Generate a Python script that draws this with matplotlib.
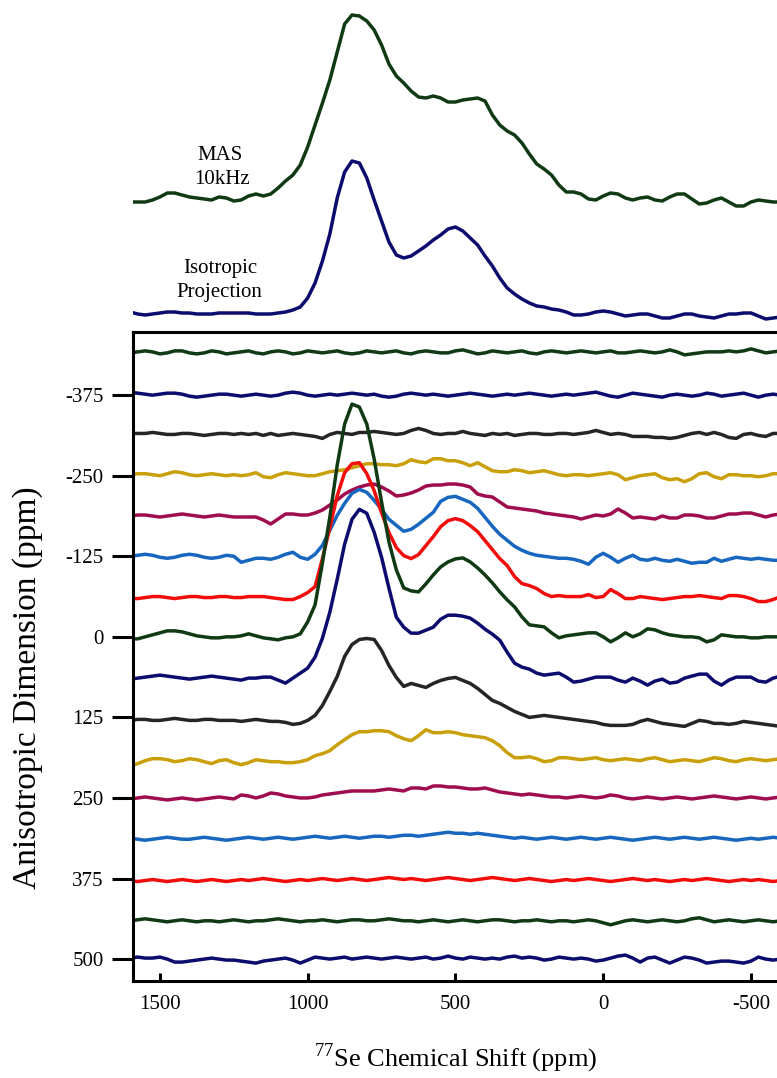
import matplotlib.pyplot as plt
import numpy as np

plt.rcParams['font.family'] = 'Liberation Serif'
plt.rcParams['mathtext.fontset'] = 'custom'
plt.rcParams['mathtext.rm'] = 'Liberation Serif'
plt.rcParams['lines.solid_joinstyle'] = 'round'
plt.rcParams['lines.solid_capstyle'] = 'round'

# direct dimension, one point every 25 ppm (1600 -> -600)
shift_ppm = np.arange(1600, -601, -25)

# top spectra (intensity above their own baseline)
mas_10khz = [0, 0, 0, 2, 5, 9, 9, 7, 5, 4,
             3, 2, 5, 4, 1, 2, 6, 8, 6, 8,
             14, 21, 27, 37, 55, 77, 99, 122, 150, 178,
             187, 186, 181, 172, 157, 138, 126, 119, 111, 105,
             104, 106, 104, 100, 100, 102, 103, 104, 101, 87,
             77, 71, 67, 59, 48, 38, 33, 27, 17, 10,
             10, 8, 3, 2, 6, 9, 8, 4, 2, 4,
             5, 2, 1, 5, 8, 8, 3, -2, -1, 2,
             4, 0, -4, -4, 0, 2, 1, 0, 0]

iso_projection = [6, 4, 3, 4, 5, 6, 6, 5, 5, 4,
                  4, 4, 5, 5, 5, 5, 5, 4, 4, 4,
                  5, 6, 8, 11, 20, 35, 57, 84, 120, 146,
                  157, 155, 140, 118, 97, 76, 63, 60, 62, 67,
                  72, 78, 83, 89, 91, 87, 80, 73, 62, 52,
                  40, 30, 24, 19, 15, 12, 11, 9, 8, 6,
                  3, 3, 4, 6, 7, 6, 4, 2, 3, 4,
                  4, 2, 0, 0, 2, 4, 4, 2, 1, 0,
                  2, 4, 4, 5, 5, 2, -1, 0, 1]

# anisotropic slices, position on the indirect axis (ppm)
aniso_ppm = [-437.5, -375, -312.5, -250, -187.5, -125, -62.5, 0,
             62.5, 125, 187.5, 250, 312.5, 375, 437.5, 500]

slices = [
    [2, 3, 4, 3, 1, 2, 4, 4, 2, 1,
     2, 4, 3, 1, 2, 3, 4, 2, 1, 3,
     4, 3, 1, 2, 4, 3, 2, 3, 4, 2,
     1, 2, 4, 3, 2, 3, 4, 2, 1, 3,
     4, 3, 2, 2, 4, 5, 3, 1, 2, 4,
     3, 2, 3, 4, 2, 1, 3, 4, 3, 2,
     3, 4, 3, 2, 3, 4, 2, 2, 3, 4,
     3, 2, 3, 5, 3, 0, 1, 2, 3, 3,
     3, 4, 3, 4, 6, 4, 2, 3, 4],
    [3, 2, 1, 0, 1, 2, 2, 1, -1, -2,
     -1, 0, 1, 1, 0, -1, 0, 1, 0, -1,
     0, 2, 3, 2, 0, -1, 0, 1, 0, 1,
     2, 1, 0, 1, -1, -2, -1, 1, 2, 1,
     0, 1, 0, -1, 0, 1, 2, 1, 0, -1,
     0, 1, 0, 1, 2, 1, 0, -1, 0, 1,
     0, 1, 2, 3, 1, -1, -2, 0, 2, 1,
     0, -1, -2, 0, 1, 0, -1, 0, 2, 1,
     -1, 0, 1, 2, 0, -2, 0, 1, 0],
    [2, 2, 2, 3, 2, 1, 1, 2, 2, 1,
     0, 1, 2, 2, 1, 2, 1, 2, 0, 2,
     0, 1, 2, 1, 0, -1, -3, 1, 3, 2,
     1, 3, 3, 4, 3, 2, 1, 2, 5, 7,
     5, 2, 1, 2, 2, 4, 2, 1, 0, 2,
     1, 2, 0, 1, 2, 2, 1, 1, 2, 2,
     1, 2, 3, 5, 3, 1, 2, 1, -1, -1,
     -1, -2, -2, -3, -2, 0, 2, 3, 1, 3,
     1, -2, -3, 1, 2, 0, -1, 2, 2],
    [1, 2, 2, 1, 0, 2, 4, 3, 1, 0,
     1, 2, 1, 0, 1, 0, 1, 3, -1, -2,
     1, 3, 2, 1, 0, 0, 2, 4, 5, 6,
     8, 10, 12, 12, 11, 11, 10, 12, 16, 14,
     13, 17, 17, 15, 15, 13, 10, 13, 9, 5,
     4, 4, 6, 5, 3, 4, 5, 3, 1, 0,
     1, 1, 0, 1, 2, 3, 1, -4, -2, 0,
     1, 2, -2, -4, -3, -6, -3, 2, 3, -1,
     -3, 1, 1, 0, 0, -1, 0, 2, 2],
    [0, 1, 1, 0, -1, 0, 1, 2, 1, 0,
     -1, 0, 1, 0, -1, -1, -1, -1, -4, -8,
     -3, 2, 2, 1, 1, 3, 6, 11, 16, 22,
     26, 29, 31, 32, 29, 25, 20, 21, 23, 26,
     30, 31, 31, 32, 32, 31, 29, 22, 20, 19,
     14, 9, 8, 7, 6, 5, 3, 2, 1, 0,
     -1, -3, -1, 1, 0, 2, 7, 3, -2, -1,
     -2, -3, 0, -2, -2, 1, 1, 0, -2, -2,
     0, 2, 2, 3, 3, 1, -1, 1, 2],
    [0, 1, 2, 1, -1, -2, -1, 1, 2, 1,
     -1, -2, -1, 1, 0, -6, -4, -2, -2, -3,
     -1, 2, 4, -1, -3, 2, 11, 26, 41, 53,
     63, 67, 64, 56, 47, 37, 31, 25, 27, 32,
     38, 44, 55, 59, 60, 57, 54, 48, 39, 30,
     22, 16, 10, 6, 3, 1, 0, -1, -2, -2,
     -3, -5, -8, -1, 3, -1, -6, -2, 1, -3,
     -4, -2, -4, -5, -3, -5, -7, -6, -6, -2,
     -5, -3, -1, -2, -3, -2, -3, -4, -4],
    [-2, -2, -1, 0, 0, -1, -2, -1, 0, 0,
     -1, -1, 0, 0, -1, -1, 0, 0, 0, -1,
     -2, -3, -3, 0, 4, 10, 38, 69, 101, 124,
     133, 134, 123, 106, 84, 64, 49, 41, 38, 42,
     51, 60, 70, 76, 78, 76, 71, 65, 56, 47,
     38, 31, 20, 13, 11, 8, 3, 0, 1, 0,
     0, 0, 2, -1, 0, 7, 3, -2, -2, 0,
     -1, -2, -3, -2, -1, 0, 0, 1, 0, -1,
     -2, 1, 1, 0, -2, -5, -5, -3, 0],
    [-2, -2, 0, 2, 4, 6, 6, 5, 3, 1,
     0, -1, -1, 0, 0, 1, 3, 1, -1, -2,
     -3, -1, 0, 3, 15, 32, 74, 120, 172, 213,
     233, 230, 213, 178, 135, 95, 67, 49, 46, 45,
     53, 62, 70, 75, 78, 79, 75, 69, 62, 54,
     45, 37, 30, 20, 12, 11, 10, 4, -1, 1,
     2, 3, 4, 4, 0, -5, -1, 4, 0, 3,
     8, 7, 4, 2, 1, 0, 0, -1, -5, -3,
     2, 1, 0, 0, -1, -1, 0, 0, 0],
    [-2, -1, 0, 1, 2, 1, 0, -1, -2, -1,
     0, 1, 0, -1, -2, -3, -1, -1, 0, 0,
     -3, -6, -1, 4, 9, 20, 39, 65, 98, 133,
     158, 168, 164, 145, 120, 89, 60, 50, 44, 44,
     47, 50, 58, 62, 62, 61, 59, 54, 48, 43,
     37, 25, 14, 10, 8, 4, 2, 3, 4, 0,
     -5, -4, -2, 0, 0, 0, -3, -5, -1, -4,
     -8, -4, -2, -6, -5, -1, 1, 3, 3, -4,
     -8, -3, 0, 0, 0, -4, -5, -1, 1],
    [-3, -2, -2, -3, -3, -2, -1, -2, -3, -3,
     -2, -2, -3, -3, -3, -4, -3, -2, -3, -4,
     -4, -5, -7, -6, -3, 2, 12, 26, 41, 61,
     73, 78, 79, 78, 67, 52, 40, 31, 34, 32,
     30, 34, 37, 39, 40, 37, 34, 29, 23, 17,
     14, 10, 6, 3, 0, 1, 2, 1, 0, -1,
     -2, -3, -4, -5, -7, -8, -8, -8, -7, -4,
     -2, -4, -6, -7, -8, -9, -6, -3, -4, -6,
     -6, -7, -6, -4, -5, -6, -7, -8, -9],
    [-8, -6, -3, -1, -1, -2, -4, -3, -1, -2,
     -4, -6, -3, -2, -5, -7, -5, -2, -3, -4,
     -4, -5, -5, -4, -2, 2, 4, 7, 13, 18,
     23, 26, 26, 27, 27, 26, 22, 19, 17, 22,
     28, 25, 25, 26, 25, 23, 22, 21, 20, 17,
     12, 5, 0, 0, 1, -1, -4, -3, 0, 0,
     -1, -2, -1, 0, -2, -3, -2, -1, -2, -3,
     -1, 0, -2, -4, -3, -2, -3, -4, -2, 0,
     -1, -3, -4, -2, -1, -2, -3, -2, -1],
    [-1, 0, 1, 0, -1, -2, -1, 0, -1, -2,
     -1, 0, 1, 0, -1, 3, 2, 0, 2, 5,
     4, 2, 1, 0, 0, 1, 3, 4, 5, 6,
     7, 7, 7, 7, 8, 9, 8, 7, 10, 10,
     9, 12, 12, 11, 11, 10, 9, 9, 10, 8,
     6, 5, 4, 3, 4, 3, 2, 1, 1, 0,
     1, 2, 1, 0, 1, 3, 2, 0, -1, 0,
     1, 0, -1, 0, 1, 0, -1, 0, 1, 2,
     1, 0, -1, 0, 1, 0, -1, 0, 1],
    [0, -1, -2, -1, 0, 1, 0, -1, -1, 0,
     1, 0, -1, -2, -1, 0, 1, 0, -1, 0,
     1, 0, -1, 0, 1, 2, 1, 0, 1, 2,
     1, 0, 1, 2, 2, 1, 2, 3, 3, 2,
     3, 4, 5, 6, 5, 5, 4, 5, 4, 3,
     2, 1, 0, 1, 0, -1, 0, 1, 0, -1,
     0, 1, 0, -1, 0, 1, 0, -1, -2, -1,
     0, 1, 0, -1, 0, 1, 0, -1, 0, 1,
     0, -1, -2, -1, 0, -1, 0, 1, 0],
    [-2, -3, -2, -1, -2, -3, -2, -1, -2, -3,
     -2, -1, -2, -3, -2, -1, -2, -1, 0, -1,
     -2, -3, -2, -1, -2, -1, 0, -1, -2, -1,
     0, -1, -2, -1, 0, 1, 0, -1, 0, -1,
     -2, -1, 0, 1, 0, -1, -2, -1, 0, 1,
     0, -1, -2, -1, 0, -1, -2, -3, -2, -1,
     -2, -1, 0, -1, -2, -3, -2, -1, 0, -1,
     -2, -1, -2, -3, -2, -1, -2, -1, 0, -1,
     -2, -3, -2, -1, -2, -1, -2, -3, -2],
    [-2, -1, 0, -1, -2, -3, -2, -1, -2, -3,
     -2, -2, -3, -2, -1, -2, -3, -2, -2, -1,
     0, -1, -2, -3, -2, -2, -1, -2, -3, -2,
     -1, -1, -2, -2, -1, 0, -1, -2, -2, -3,
     -2, -1, -2, -3, -2, -1, -2, -3, -2, -1,
     -1, -2, -3, -2, -2, -1, -2, -3, -2, -2,
     -3, -2, -1, -2, -4, -6, -4, -2, -1, -2,
     -3, -2, -1, -2, -3, -2, 0, 1, -1, -3,
     -2, -1, -2, -3, -2, -1, -2, -3, -2],
    [1, 2, 1, 1, 2, 0, -3, -3, -2, -1,
     0, 1, 0, -1, -1, -2, -3, -4, -2, -1,
     0, 1, -1, -4, -1, 2, 1, 0, 1, 2,
     0, 1, 2, 1, 0, 1, 2, 1, 0, 1,
     2, 0, 1, 3, 1, 0, 2, 1, 0, 1,
     0, 2, 3, 1, 2, 1, -1, 0, 2, 1,
     0, 1, 0, -2, -1, 1, 3, 4, 1, -3,
     1, 2, -1, -4, -1, 2, 1, -1, -4, -3,
     -2, -2, -3, -4, -2, 2, 0, -1, 0],
]

palette = ['#0f3a14', '#0c0c6e', '#252525', '#c9a00a',
           '#a00d4e', '#1766bf', '#f20d0d']
intensity_scale = 1.55  # intensity units -> ppm on the indirect axis

fig = plt.figure(figsize=(7.77, 10.78), dpi=100)

# stacked slices
ax = fig.add_axes([133 / 777, 97 / 1078, 644 / 777, 649 / 1078])
for k, (pos, trace) in enumerate(zip(aniso_ppm, slices)):
    ax.plot(shift_ppm, pos - np.array(trace) * intensity_scale,
            color=palette[k % len(palette)], linewidth=2.5)

ax.set_xlim(1591, -588)
ax.set_ylim(534, -473)
ax.set_xticks([1500, 1000, 500, 0, -500])
ax.set_xticklabels(['1500', '1000', '500', '0', '-500'])
ax.set_yticks([-375, -250, -125, 0, 125, 250, 375, 500])
ax.set_yticklabels(['-375', '-250', '-125', '0', '125', '250', '375', '500'])
ax.tick_params(axis='x', direction='in', length=6, width=2.2, labelsize=15, pad=10)
ax.tick_params(axis='y', direction='out', length=15, width=2.2, labelsize=15, pad=6)
for side in ['top', 'left', 'bottom']:
    ax.spines[side].set_linewidth(2.2)
ax.spines['right'].set_visible(False)

# MAS spectrum and isotropic projection
ax_top = fig.add_axes([133 / 777, 746 / 1078, 644 / 777, 332 / 1078])
ax_top.plot(shift_ppm, 130 + np.array(mas_10khz), color='#0f3a14', linewidth=2.5)
ax_top.plot(shift_ppm, 14 + np.array(iso_projection), color='#0c0c6e', linewidth=2.5)
ax_top.set_xlim(1591, -588)
ax_top.set_ylim(0, 332)
ax_top.axis('off')

fig.text(220 / 777, 1 - 155 / 1078, 'MAS', ha='center', va='center', fontsize=15)
fig.text(222 / 777, 1 - 180 / 1078, '10kHz', ha='center', va='center', fontsize=15)
fig.text(220 / 777, 1 - 269 / 1078, 'Isotropic', ha='center', va='center', fontsize=15)
fig.text(219 / 777, 1 - 293 / 1078, 'Projection', ha='center', va='center', fontsize=15)

fig.text(28 / 777, 1 - 688 / 1078, 'Anisotropic Dimension (ppm)', rotation=90,
         ha='center', va='center', fontsize=24)
fig.text(456 / 777, 1 - 1058 / 1078, r'$^{77}$Se Chemical Shift (ppm)',
         ha='center', va='center', fontsize=19)

fig.savefig('out.png', dpi=100)
